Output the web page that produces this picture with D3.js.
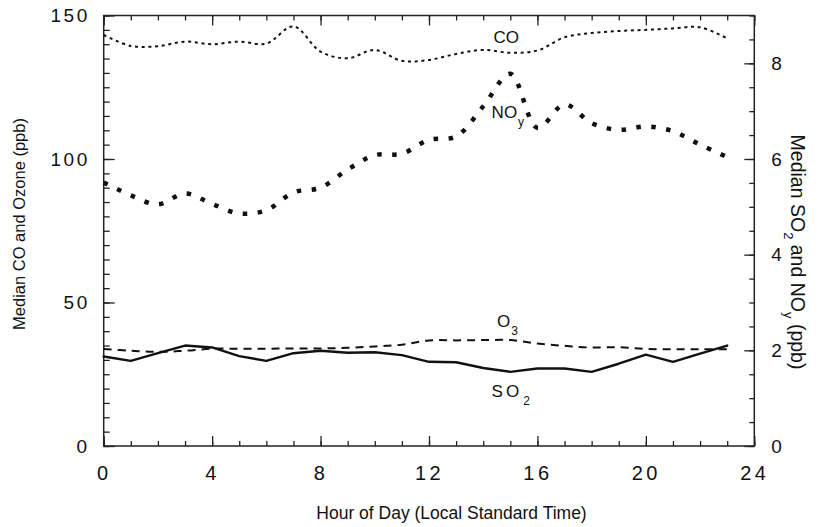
<!DOCTYPE html>
<html>
<head>
<meta charset="utf-8">
<script src="https://cdn.jsdelivr.net/npm/d3@7/dist/d3.min.js"></script>
<style>
  body { margin: 0; background: #fff; }
  text { font-family: "Liberation Sans", Arial, Helvetica, sans-serif; fill: #111; }
</style>
</head>
<body>
<script>
// hourly medians
const hours = [0, 1, 2, 3, 4, 5, 6, 7, 8, 9, 10, 11, 12, 13, 14, 15, 16, 17, 18, 19, 20, 21, 22, 23];
const co  = [143.2, 139.4, 139.3, 140.9, 140.0, 140.9, 140.2, 146.2, 137.4, 135.1, 138.0, 134.2,
             134.5, 136.6, 138.0, 137.0, 137.8, 142.4, 143.9, 144.6, 145.0, 145.5, 145.9, 142.0];
const o3  = [33.8, 33.2, 32.8, 33.2, 33.9, 33.9, 33.9, 34.0, 34.0, 34.2, 34.7, 35.3,
             36.8, 36.8, 36.9, 36.9, 35.7, 34.9, 34.3, 34.4, 33.8, 33.7, 33.7, 33.7];
const noy = [5.51, 5.24, 5.05, 5.28, 5.06, 4.86, 4.93, 5.30, 5.40, 5.78, 6.08, 6.11,
             6.40, 6.47, 7.10, 7.78, 6.65, 7.14, 6.75, 6.61, 6.68, 6.58, 6.30, 6.04];
const so2 = [1.87, 1.78, 1.94, 2.10, 2.06, 1.88, 1.78, 1.94, 1.99, 1.95, 1.96, 1.90,
             1.76, 1.75, 1.63, 1.55, 1.62, 1.62, 1.55, 1.72, 1.91, 1.76, 1.93, 2.10];

const xTicks = [0, 4, 8, 12, 16, 20, 24];
const leftTicks = [0, 50, 100, 150];
const rightTicks = [0, 2, 4, 6, 8];

const width = 821, height = 527;
const margin = {top: 15.5, right: 66.7, bottom: 81, left: 103.7};

const x = d3.scaleLinear().domain([0, 24]).range([margin.left, width - margin.right]);
const yL = d3.scaleLinear().domain([0, 150]).range([height - margin.bottom, margin.top]);
const yR = d3.scaleLinear().domain([0, 9]).range([height - margin.bottom, margin.top]);

const svg = d3.select("body").append("svg")
    .attr("width", width)
    .attr("height", height)
    .attr("viewBox", [0, 0, width, height]);

// ticks, all pointing into the plot; makeAxis gives a fresh axis each time
const ticks = (g, makeAxis, minorCount, majorVals, minorSize, majorSize, pad) => g
    .call(g => g.append("g").call(makeAxis().ticks(minorCount)
        .tickSizeInner(-minorSize).tickSizeOuter(0).tickFormat("")))
    .call(g => g.append("g").call(makeAxis().tickValues(majorVals)
        .tickSizeInner(-majorSize).tickSizeOuter(0).tickPadding(pad)))
    .call(g => g.selectAll(".domain").remove())
    .call(g => g.selectAll(".tick line").attr("stroke", "#222").attr("stroke-width", 1.3));

svg.append("g")
    .attr("transform", `translate(0,${height - margin.bottom})`)
    .call(ticks, () => d3.axisBottom(x), 24, xTicks, 5, 10, 20)
    .call(g => g.selectAll("text").attr("font-size", 20).attr("letter-spacing", 3.5));

svg.append("g")
    .attr("transform", `translate(0,${margin.top})`)
    .call(ticks, () => d3.axisTop(x), 24, xTicks, 5, 10, 3)
    .call(g => g.selectAll("text").remove());

svg.append("g")
    .attr("transform", `translate(${margin.left},0)`)
    .call(ticks, () => d3.axisLeft(yL), 30, leftTicks, 6, 11, 14)
    .call(g => g.selectAll("text").attr("font-size", 19).attr("letter-spacing", 2.5));

svg.append("g")
    .attr("transform", `translate(${width - margin.right},0)`)
    .call(ticks, () => d3.axisRight(yR), 18, rightTicks, 5, 10, 17)
    .call(g => g.selectAll("text").attr("font-size", 19));

svg.selectAll(".tick text").attr("fill", "#111").attr("font-family", null);

// frame
svg.append("rect")
    .attr("x", margin.left)
    .attr("y", margin.top)
    .attr("width", width - margin.left - margin.right)
    .attr("height", height - margin.top - margin.bottom)
    .attr("fill", "none")
    .attr("stroke", "#222")
    .attr("stroke-width", 1.5);

// series
const series = [
    {vals: co,  y: yL, curve: d3.curveCatmullRom, width: 2,   dash: "3 3.7",    cap: "butt"},
    {vals: noy, y: yR, curve: d3.curveCatmullRom, width: 4.5, dash: "4.5 10.5", cap: "butt"},
    {vals: o3,  y: yL, curve: d3.curveCatmullRom, width: 2,   dash: "8 6",      cap: "butt"},
    {vals: so2, y: yR, curve: d3.curveLinear,     width: 2.4, dash: null,       cap: "round"}
];

svg.append("g")
    .attr("fill", "none")
    .attr("stroke", "#111")
    .selectAll("path")
    .data(series)
    .join("path")
    .attr("stroke-width", d => d.width)
    .attr("stroke-dasharray", d => d.dash)
    .attr("stroke-linecap", d => d.cap)
    .attr("stroke-linejoin", "round")
    .attr("d", s => d3.line()
        .x((v, i) => x(hours[i]))
        .y(v => s.y(v))
        .curve(s.curve)(s.vals));

// series labels (hour, value on their own axis)
const labels = [
    {main: "CO", sub: "",  hour: 14.85, val: 140.3, y: yL, anchor: "middle", spacing: 0},
    {main: "NO", sub: "y", hour: 14.31, val: 6.86,  y: yR, anchor: "start",  spacing: 0},
    {main: "O",  sub: "3", hour: 14.51, val: 41.6,  y: yL, anchor: "start",  spacing: 0},
    {main: "SO", sub: "2", hour: 14.31, val: 1.02,  y: yR, anchor: "start",  spacing: 3}
];

labels.forEach(l => {
    const t = svg.append("text")
        .attr("x", x(l.hour))
        .attr("y", l.y(l.val))
        .attr("text-anchor", l.anchor)
        .attr("font-size", 17);
    t.append("tspan").attr("letter-spacing", l.spacing).text(l.main);
    if (l.sub) t.append("tspan").attr("dx", 1).attr("dy", 8).attr("font-size", 12).text(l.sub);
});

// axis titles
svg.append("text")
    .attr("x", 451.5)
    .attr("y", 519)
    .attr("text-anchor", "middle")
    .attr("font-size", 17.5)
    .text("Hour of Day (Local Standard Time)");

svg.append("text")
    .attr("transform", "translate(25,224) rotate(-90)")
    .attr("text-anchor", "middle")
    .attr("font-size", 16.5)
    .text("Median CO and Ozone (ppb)");

svg.append("text")
    .attr("transform", "translate(791,252) rotate(90)")
    .attr("text-anchor", "middle")
    .attr("font-size", 19.5)
    .call(t => {
        t.append("tspan").text("Median SO");
        t.append("tspan").attr("dy", 7).attr("font-size", 13).text("2");
        t.append("tspan").attr("dy", -7).text(" and NO");
        t.append("tspan").attr("dy", 7).attr("font-size", 13).text("y");
        t.append("tspan").attr("dy", -7).text(" (ppb)");
    });
</script>
</body>
</html>
